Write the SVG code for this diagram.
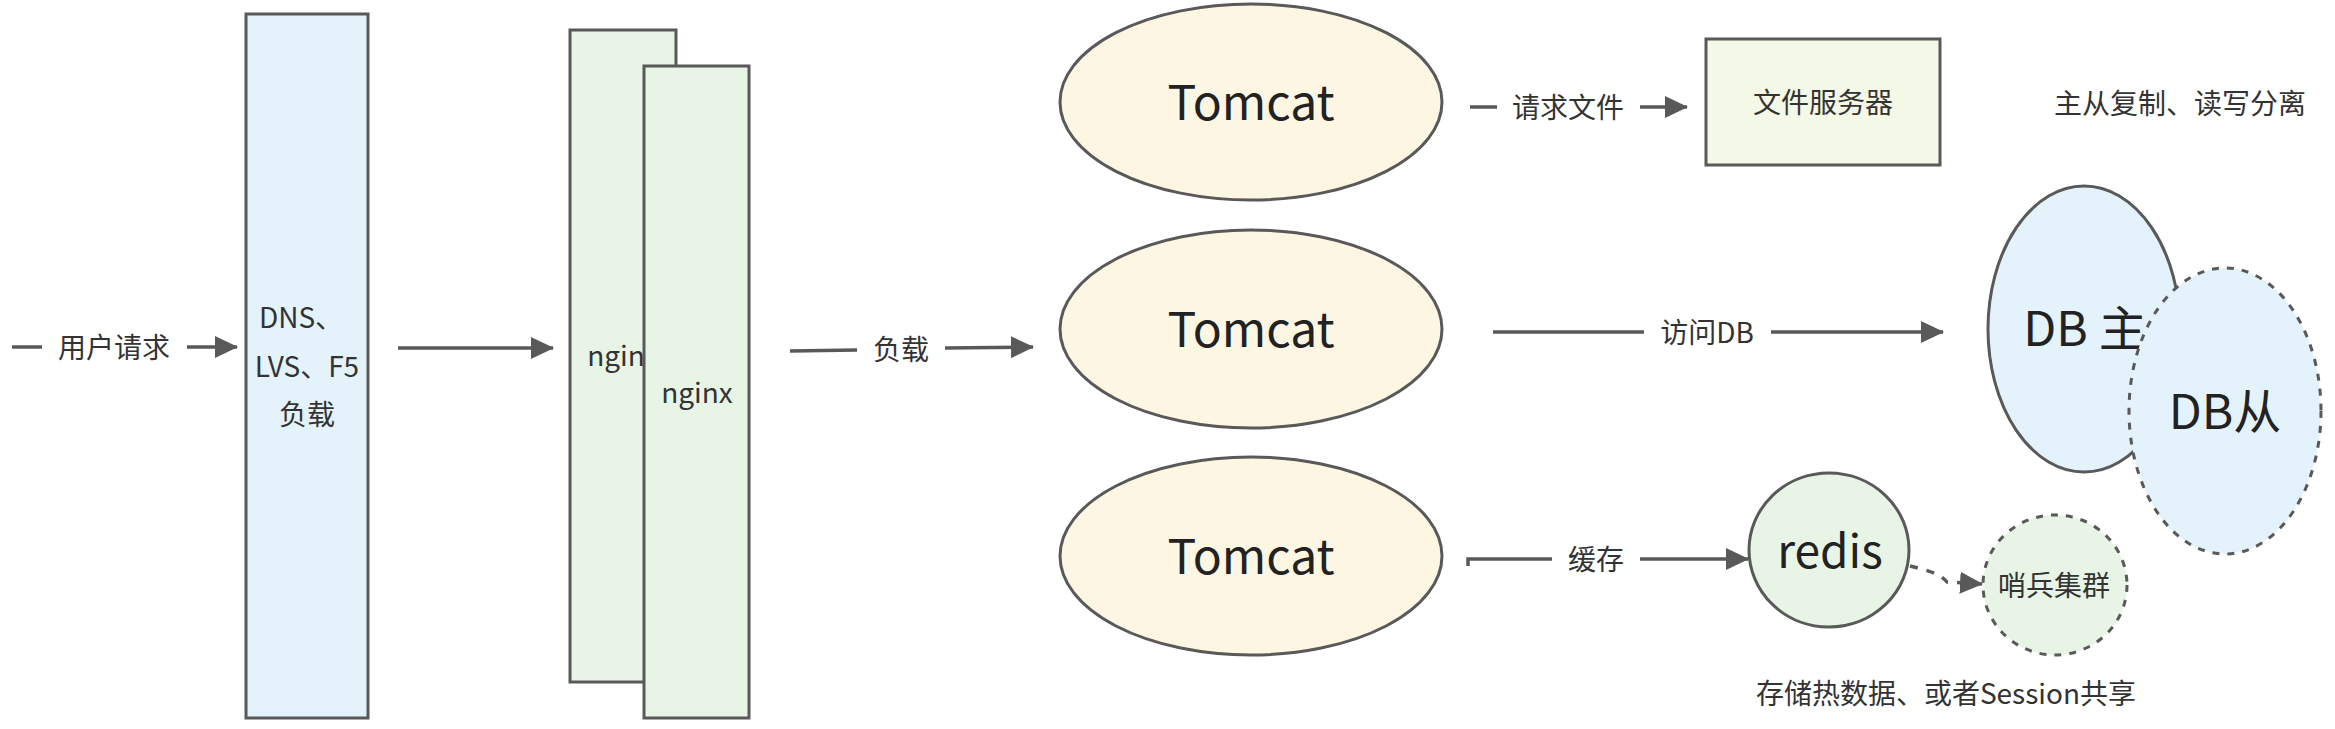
<svg xmlns="http://www.w3.org/2000/svg" width="2335" height="729" viewBox="0 0 2335 729">
<style>
text{font-family:"Noto Sans CJK SC","Microsoft YaHei",sans-serif;fill:#262626;dominant-baseline:central;text-anchor:middle}
.lbl{font-size:28px;fill:#333}
.big{font-size:48px;fill:#222}
.node{stroke:#595959;stroke-width:3}
.dash{stroke-dasharray:7 8}
.conn{stroke:#595959;stroke-width:3.5;fill:none}
</style>
<defs>
<marker id="ah" viewBox="0 0 23 22" refX="22" refY="11" markerWidth="23" markerHeight="22" markerUnits="userSpaceOnUse" orient="auto">
<path d="M0 0 L23 11 L0 22 Z" fill="#595959"/>
</marker>
</defs>
<rect width="2335" height="729" fill="#ffffff"/>

<g id="lb">
<rect class="node" x="246" y="14" width="122" height="704" fill="#e4f3fb"/>
<text class="lbl" x="301" y="316">DNS、</text>
<text class="lbl" x="307" y="365">LVS、F5</text>
<text class="lbl" x="307" y="413">负载</text>
</g>

<g id="nginx1">
<rect class="node" x="570" y="30" width="106" height="652" fill="#e8f5e6"/>
<text class="lbl" x="623" y="354">nginx</text>
</g>
<g id="nginx2">
<rect class="node" x="644" y="66" width="105" height="652" fill="#e8f5e6"/>
<text class="lbl" x="697" y="391">nginx</text>
</g>

<g id="tomcat1">
<ellipse class="node" cx="1251" cy="102" rx="191" ry="98" fill="#fdf6e2"/>
<text class="big" x="1251" y="99">Tomcat</text>
</g>
<g id="tomcat2">
<ellipse class="node" cx="1251" cy="329" rx="191" ry="99" fill="#fdf6e2"/>
<text class="big" x="1251" y="326">Tomcat</text>
</g>
<g id="tomcat3">
<ellipse class="node" cx="1251" cy="556" rx="191" ry="99" fill="#fdf6e2"/>
<text class="big" x="1251" y="553">Tomcat</text>
</g>

<g id="fileserver">
<rect class="node" x="1706" y="39" width="234" height="126" fill="#f4f8e6"/>
<text class="lbl" x="1823" y="101">文件服务器</text>
</g>

<g id="note-db">
<text class="lbl" x="2180" y="102">主从复制、读写分离</text>
</g>

<g id="dbmaster">
<ellipse class="node" cx="2084" cy="329" rx="96" ry="143" fill="#e4f3fb"/>
<text class="big" x="2085" y="325">DB 主</text>
</g>
<g id="dbslave">
<ellipse class="node dash" cx="2225" cy="411" rx="96" ry="143" fill="#e4f3fb"/>
<text class="big" x="2225" y="408">DB从</text>
</g>

<g id="redis">
<ellipse class="node" cx="1829" cy="550" rx="80" ry="77" fill="#e8f5e6"/>
<text class="big" x="1830" y="548" style="font-size:46px">redis</text>
</g>
<g id="sentinel">
<ellipse class="node dash" cx="2055" cy="585" rx="72" ry="70" fill="#e8f5e6"/>
<text class="lbl" x="2054" y="584">哨兵集群</text>
</g>

<g id="note-redis">
<text class="lbl" x="1946" y="692">存储热数据、或者Session共享</text>
</g>

<g id="connectors">
<line class="conn" x1="12" y1="347" x2="42" y2="347"/>
<text class="lbl" x="114" y="346">用户请求</text>
<line class="conn" x1="187" y1="347" x2="237" y2="347" marker-end="url(#ah)"/>

<line class="conn" x1="398" y1="348" x2="553" y2="348" marker-end="url(#ah)"/>

<line class="conn" x1="790" y1="351" x2="857" y2="350"/>
<text class="lbl" x="901" y="348">负载</text>
<line class="conn" x1="945" y1="348" x2="1033" y2="347" marker-end="url(#ah)"/>

<line class="conn" x1="1470" y1="107" x2="1497" y2="107"/>
<text class="lbl" x="1568" y="106">请求文件</text>
<line class="conn" x1="1640" y1="107" x2="1687" y2="107" marker-end="url(#ah)"/>

<line class="conn" x1="1493" y1="332" x2="1644" y2="332"/>
<text class="lbl" x="1707" y="331">访问DB</text>
<line class="conn" x1="1771" y1="332" x2="1943" y2="332" marker-end="url(#ah)"/>

<path class="conn" d="M1468 566 L1468 559 L1552 559"/>
<text class="lbl" x="1596" y="558">缓存</text>
<line class="conn" x1="1640" y1="559" x2="1748" y2="559" marker-end="url(#ah)"/>

<path class="conn" d="M1910 566 C1935 572 1942 576 1947 582 L1982 584" style="stroke-dasharray:8 9" marker-end="url(#ah)"/>
</g>
</svg>
